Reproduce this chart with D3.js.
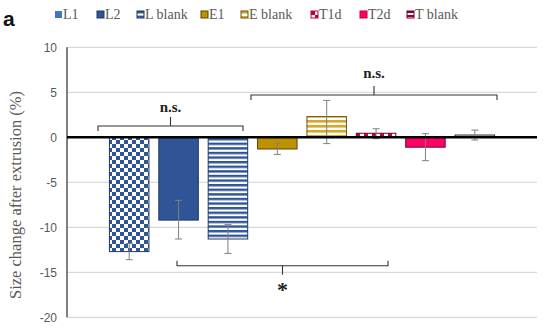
<!DOCTYPE html>
<html>
<head>
<script src="https://d3js.org/d3.v7.min.js"></script>
<style>
  body { margin: 0; background: #fff; }
  text { font-family: "Liberation Serif", "DejaVu Serif", serif; }
  .tick-label { font-family: "Liberation Sans", Arial, sans-serif; fill: #595959; font-size: 12px; }
</style>
</head>
<body>
<div id="chart"></div>
<script>
// data
const categories = ["L1", "L2", "L blank", "E1", "E blank", "T1d", "T2d", "T blank"];
const values = [-12.7, -9.2, -11.3, -1.3, 2.3, 0.45, -1.1, 0.25];
const errUp = [0.9, 2.2, 1.6, 0.6, 1.8, 0.5, 1.5, 0.55];
const errDown = [0.9, 2.1, 1.6, 0.6, 3.0, 0.6, 1.5, 0.55];
const yTicks = [10, 5, 0, -5, -10, -15, -20];

const W = 550, H = 331;
const svg = d3.select("#chart").append("svg").attr("width", W).attr("height", H);
const defs = svg.append("defs");

// patterns
function checker(id, color, size) {
  const p = defs.append("pattern").attr("id", id).attr("patternUnits", "userSpaceOnUse")
    .attr("width", size * 2).attr("height", size * 2);
  p.append("rect").attr("width", size * 2).attr("height", size * 2).attr("fill", "#fff");
  p.append("rect").attr("width", size).attr("height", size).attr("fill", color);
  p.append("rect").attr("x", size).attr("y", size).attr("width", size).attr("height", size).attr("fill", color);
}
function stripes(id, color, period, thick) {
  const p = defs.append("pattern").attr("id", id).attr("patternUnits", "userSpaceOnUse")
    .attr("width", 8).attr("height", period);
  p.append("rect").attr("width", 8).attr("height", period).attr("fill", "#fff");
  p.append("rect").attr("width", 8).attr("height", thick).attr("fill", color);
}
checker("chkBlue", "#2F5597", 4);
stripes("strBlue", "#2F5597", 4.6, 2.4);
stripes("strGold", "#D9A82B", 5, 2.6);
checker("chkRed", "#C0003C", 4);
stripes("strRed", "#A0002E", 4, 2);

const fills = ["url(#chkBlue)", "#2F5597", "url(#strBlue)", "#BF9000", "url(#strGold)", "url(#chkRed)", "#FF0066", "url(#strRed)"];
const strokes = ["#1F3864", "#1F3864", "#1F3864", "#5C4500", "#6B5210", "#6E0022", "#7A0030", "#222"];

const x0 = 67, x1 = 537;
const y = d3.scaleLinear().domain([-20, 10]).range([317.3, 47.3]);
const x = d3.scaleBand().domain(categories).range([104.5, 499.5]).paddingInner(0.2).paddingOuter(0.1);

// gridlines
svg.append("g").selectAll("line").data(yTicks.filter(d => d !== 0)).join("line")
  .attr("x1", x0).attr("x2", x1).attr("y1", d => y(d)).attr("y2", d => y(d))
  .attr("stroke", "#d0d0d0").attr("stroke-width", 1);

// y axis labels
svg.append("g").selectAll("text").data(yTicks).join("text")
  .attr("class", "tick-label").attr("x", 57).attr("y", d => y(d)).attr("dy", "0.35em")
  .attr("text-anchor", "end").text(d => d);

// bars
const bars = categories.map((c, i) => ({ c, v: values[i], up: errUp[i], dn: errDown[i], i }));
svg.append("g").selectAll("rect").data(bars).join("rect")
  .attr("x", d => x(d.c)).attr("width", x.bandwidth())
  .attr("y", d => y(Math.max(0, d.v))).attr("height", d => Math.abs(y(d.v) - y(0)))
  .attr("fill", d => fills[d.i]).attr("stroke", d => strokes[d.i]).attr("stroke-width", 1);

// error bars
const eb = svg.append("g").attr("stroke", "#7f7f7f").attr("stroke-width", 1);
bars.forEach(d => {
  const cx = x(d.c) + x.bandwidth() / 2;
  const top = y(d.v + d.up), bot = y(d.v - d.dn);
  eb.append("line").attr("x1", cx).attr("x2", cx).attr("y1", top).attr("y2", bot);
  eb.append("line").attr("x1", cx - 3.5).attr("x2", cx + 3.5).attr("y1", top).attr("y2", top);
  eb.append("line").attr("x1", cx - 3.5).attr("x2", cx + 3.5).attr("y1", bot).attr("y2", bot);
});

// axes
svg.append("line").attr("x1", x0).attr("x2", x0).attr("y1", y(10)).attr("y2", y(-20))
  .attr("stroke", "#000").attr("stroke-width", 1);
svg.append("line").attr("x1", x0).attr("x2", x1).attr("y1", y(0)).attr("y2", y(0))
  .attr("stroke", "#000").attr("stroke-width", 2.5);

// y title
svg.append("text").attr("transform", "translate(21,195) rotate(-90)")
  .attr("text-anchor", "middle").attr("font-size", 16.5).attr("fill", "#595959")
  .text("Size change after extrusion (%)");

// significance brackets
function bracket(xa, xb, yl, endDir, tickDir, label, ly, size) {
  const g = svg.append("g").attr("fill", "none").attr("stroke", "#333").attr("stroke-width", 1.1);
  const xm = (xa + xb) / 2;
  g.append("path").attr("d", `M${xa},${yl + endDir * 5}V${yl}H${xb}V${yl + endDir * 5}`);
  g.append("path").attr("d", `M${xm},${yl}V${yl + tickDir * 9}`);
  svg.append("text").attr("x", xm).attr("y", ly).attr("text-anchor", "middle")
    .attr("font-size", size).attr("font-weight", "bold").attr("fill", "#222").text(label);
}
bracket(98, 243, 126, 1, -1, "n.s.", 112, 15);
bracket(251, 497, 95, 1, -1, "n.s.", 78, 15);
bracket(177, 388, 265.7, -1, 1, "*", 297, 22);

// panel label
svg.append("text").attr("x", 3).attr("y", 26)
  .style("font-family", "'Liberation Sans', Arial, sans-serif")
  .attr("font-weight", "bold").attr("font-size", 21).attr("fill", "#111").text("a");

// legend
const legX = [55, 97, 137, 201, 241, 311, 360, 407];
const legFill = ["#4472C4", "#2F5597", "url(#strBlue)", "#BF9000", "url(#strGold)", "url(#chkRed)", "#FF0066", "url(#strRed)"];
const legStroke = ["none", "#1F3864", "#1F3864", "#5C4500", "#6B5210", "#C0003C", "#C0003C", "#6E0022"];
const leg = svg.append("g").selectAll("g").data(categories).join("g")
  .attr("transform", (d, i) => `translate(${legX[i]},11)`);
leg.append("rect").attr("width", 7).attr("height", 7)
  .attr("fill", (d, i) => legFill[i]).attr("stroke", (d, i) => legStroke[i]).attr("stroke-width", 1);
leg.append("text").attr("x", 8).attr("y", 3.5).attr("dy", "0.35em").attr("font-size", 14)
  .attr("fill", "#595959").text(d => d);
</script>
</body>
</html>
